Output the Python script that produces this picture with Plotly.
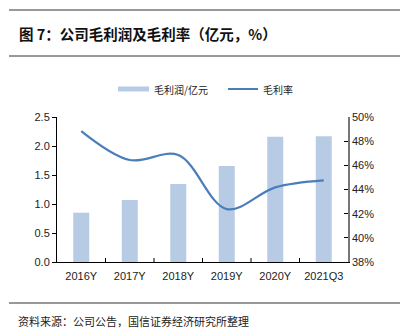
import plotly.graph_objects as go

categories = ["2016Y", "2017Y", "2018Y", "2019Y", "2020Y", "2021Q3"]
gross_profit = [0.85, 1.07, 1.345, 1.655, 2.16, 2.17]
gross_margin = [48.84, 46.44, 46.85, 42.38, 44.18, 44.76]
left_ticks = [0.0, 0.5, 1.0, 1.5, 2.0, 2.5]
right_ticks = [38, 40, 42, 44, 46, 48, 50]
right_labels = [f"{v}%" for v in right_ticks]

BAR_COLOR = "#B7CCE4"
LINE_COLOR = "#4A7EBB"
FONT = "Liberation Sans, Arial, sans-serif"
CJK = "Noto Sans CJK SC"

fig = go.Figure()
fig.add_trace(go.Bar(x=categories, y=gross_profit, name="毛利润/亿元",
                     marker=dict(color=BAR_COLOR, line=dict(width=0)),
                     width=0.33, yaxis="y"))
fig.add_trace(go.Scatter(x=categories, y=gross_margin, name="毛利率", mode="lines",
                         line=dict(color=LINE_COLOR, width=2.2, shape="spline", smoothing=1.0),
                         yaxis="y2"))

W, H = 404, 336
L, R, T, B = 57, 56, 117, 74
pw, ph = W - L - R, H - T - B

def xp(x):
    return (x - L) / pw

def yp(y):
    return (H - B - y) / ph

shapes = []
for yy in (10, 56, 303):
    shapes.append(dict(type="line", xref="paper", yref="paper",
                       x0=xp(9), x1=xp(400), y0=yp(yy), y1=yp(yy),
                       line=dict(color="#333333", width=1)))
shapes.append(dict(type="rect", xref="paper", yref="paper",
                   x0=xp(118), x1=xp(149), y0=yp(91.5), y1=yp(86.5),
                   fillcolor=BAR_COLOR, line=dict(width=0)))
shapes.append(dict(type="line", xref="paper", yref="paper",
                   x0=xp(228), x1=xp(258), y0=yp(89), y1=yp(89),
                   line=dict(color=LINE_COLOR, width=2)))

annotations = [
    dict(text="<b>图 7：公司毛利润及毛利率（亿元，%）</b>", xref="paper", yref="paper",
         x=xp(17), y=yp(33), xanchor="left", yanchor="middle", showarrow=False,
         font=dict(family=CJK, size=14.5, color="#111111")),
    dict(text="毛利润/亿元", xref="paper", yref="paper", x=xp(152), y=yp(89),
         xanchor="left", yanchor="middle", showarrow=False,
         font=dict(family=CJK, size=10, color="#222222")),
    dict(text="毛利率", xref="paper", yref="paper", x=xp(261), y=yp(89),
         xanchor="left", yanchor="middle", showarrow=False,
         font=dict(family=CJK, size=10, color="#222222")),
    dict(text="资料来源：公司公告，国信证券经济研究所整理", xref="paper", yref="paper",
         x=xp(16), y=yp(321), xanchor="left", yanchor="middle", showarrow=False,
         font=dict(family=CJK, size=11, color="#222222")),
]

fig.update_layout(
    width=W, height=H,
    margin=dict(l=L, r=R, t=T, b=B, pad=0),
    paper_bgcolor="white", plot_bgcolor="white",
    showlegend=False,
    font=dict(family=FONT, size=11, color="#222222"),
    shapes=shapes, annotations=annotations,
    xaxis=dict(type="category", showline=True, linecolor="#000000", linewidth=1,
               ticks="", showgrid=False, tickfont=dict(family=FONT, size=11, color="#222222"),
               ticklabelstandoff=4),
    yaxis=dict(range=[0, 2.5], tickvals=left_ticks, tickformat=".1f", showgrid=False,
               showline=True, linecolor="#000000", linewidth=1, ticks="outside",
               ticklen=4, tickcolor="#000000", zeroline=False,
               tickfont=dict(family=FONT, size=11, color="#222222")),
    yaxis2=dict(range=[38, 50], tickmode="array", tickvals=right_ticks, ticktext=right_labels,
                overlaying="y", side="right", anchor="x", showgrid=False, showline=True,
                linecolor="#777777", linewidth=1.5, ticks="inside", ticklen=4,
                tickcolor="#000000", zeroline=False,
                tickfont=dict(family=FONT, size=11, color="#222222")),
    bargap=0.67,
)

for i in range(1, len(categories)):
    fig.add_shape(type="line", xref="x", yref="paper", x0=i - 0.5, x1=i - 0.5,
                  y0=0, y1=yp(258), line=dict(color="#000000", width=1))

fig.write_html("out.html")
